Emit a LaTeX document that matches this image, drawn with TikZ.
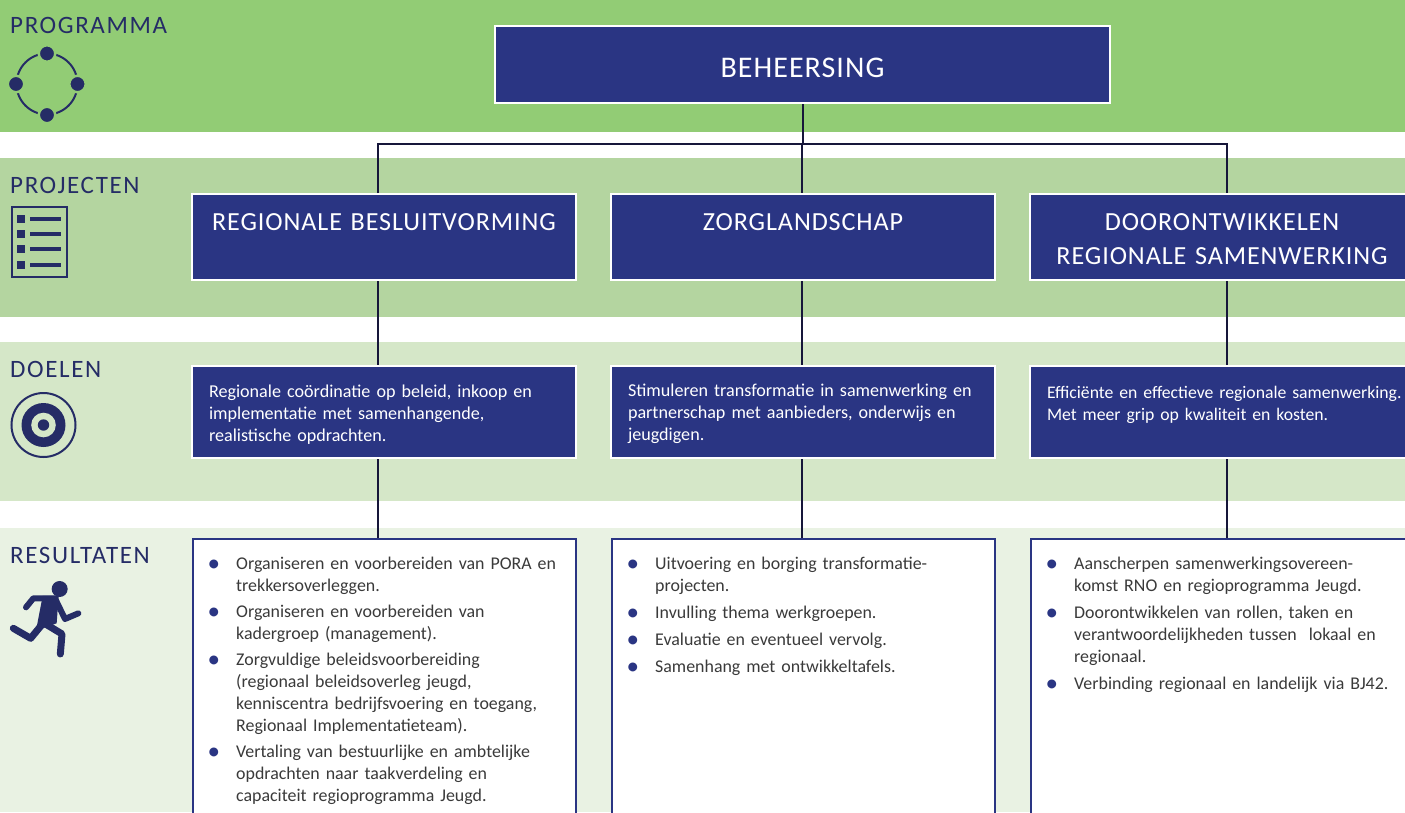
\documentclass[tikz,border=0pt]{standalone}
\usepackage{fontspec}
\setmainfont{Carlito}
\newfontfamily\spatiefont[LetterSpace=3.5]{Carlito}
\newfontfamily\labelfont[LetterSpace=6.5]{Carlito}
\definecolor{bandA}{HTML}{92CC75}
\definecolor{bandB}{HTML}{B4D5A0}
\definecolor{bandC}{HTML}{D5E7C8}
\definecolor{bandD}{HTML}{E9F2E3}
\definecolor{blok}{HTML}{2A3583}
\definecolor{icoon}{HTML}{252C66}
\definecolor{lijn}{HTML}{16163A}
\definecolor{tekst}{HTML}{3A3A3A}
\newenvironment{resultlijst}[1]{\begin{list}{\makebox[0pt][r]{\textcolor{blok}{\raisebox{-2pt}{\scalebox{1.4}{\textbullet}}}}}{\setlength{\leftmargin}{26pt}\setlength{\labelwidth}{0pt}\setlength{\labelsep}{16pt}\setlength{\itemsep}{#1}\setlength{\parsep}{0pt}\setlength{\topsep}{0pt}\setlength{\partopsep}{0pt}}}{\end{list}}
\tikzset{
	rijlabel/.style={anchor=base west,inner sep=0pt,text=icoon,font=\labelfont\fontsize{25}{28}\selectfont},
	kopblok/.style={draw=white,line width=2pt,fill=blok,text=white,inner xsep=0pt,inner ysep=0pt,align=center,font=\spatiefont\fontsize{26.1}{33.5}\selectfont},
	projblok/.style={kopblok,text width=384pt,minimum height=86pt,execute at begin node=\rule{0pt}{21pt}},
	doelblok/.style={draw=white,line width=2pt,fill=blok,text=white,minimum height=92pt,text width=350pt,inner xsep=17pt,inner ysep=0pt,align=left,font=\fontsize{18.1}{22}\selectfont,execute at begin node=\rule{0pt}{17pt}},
	resultblok/.style={draw=blok,line width=2pt,fill=white,minimum width=383pt,minimum height=291pt,anchor=north},
	resulttekst/.style={anchor=north west,inner sep=0pt,text width=350pt,text=tekst,font=\fontsize{17.9}{22}\selectfont},
	verbinding/.style={draw=lijn,line width=2pt},
	icoonlijn/.style={draw=icoon,line width=2pt},
	stip/.style={fill=icoon,draw=bandA,line width=2.5pt},
}
\begin{document}
\begin{tikzpicture}[x=1pt,y=-1pt]
	\clip (0,0) rectangle (1405,812);
	\fill[white] (0,0) rectangle (1405,812);
	\fill[bandA] (0,0) rectangle (1405,132);
	\fill[bandB] (0,158) rectangle (1405,317);
	\fill[bandC] (0,342) rectangle (1405,501);
	\fill[bandD] (0,528) rectangle (1405,812);

	\node[rijlabel] (programma) at (10,33.5){PROGRAMMA};
	\node[rijlabel] (projecten) at (10,193){PROJECTEN};
	\node[rijlabel] (doelen) at (10,377){DOELEN};
	\node[rijlabel] (resultaten) at (10,563){RESULTATEN};

	\node[kopblok,text width=615pt,minimum height=77pt,font=\spatiefont\fontsize{30}{36}\selectfont,execute at begin node=\rule{0pt}{26pt}] (beheersing) at (802.5,64.5){BEHEERSING};

	\node[projblok] (projA) at (384,237){REGIONALE BESLUITVORMING\\~};
	\node[projblok] (projB) at (803,237){ZORGLANDSCHAP\\~};
	\node[projblok] (projC) at (1222,237){DOORONTWIKKELEN\\REGIONALE SAMENWERKING};

	\node[doelblok] (doelA) at (384,412){Regionale coördinatie op beleid, inkoop en\\implementatie met samenhangende,\\realistische opdrachten.};
	\node[doelblok] (doelB) at (803,412){Stimuleren transformatie in samenwerking en\\partnerschap met aanbieders, onderwijs en\\jeugdigen.};
	\node[doelblok,font=\fontsize{17.7}{22}\selectfont] (doelC) at (1222,412){\mbox{Efficiënte en effectieve regionale samenwerking.}\\Met meer grip op kwaliteit en kosten.\\~};

	\node[resultblok] (resA) at (384,538){};
	\node[resultblok] (resB) at (803,538){};
	\node[resultblok] (resC) at (1222,538){};

	\node[resulttekst] (resAtekst) at (210,547){\begin{resultlijst}{4pt}
		\item Organiseren en voorbereiden van PORA en\\trekkersoverleggen.
		\item Organiseren en voorbereiden van\\kadergroep (management).
		\item Zorgvuldige beleidsvoorbereiding\\(regionaal beleidsoverleg jeugd,\\kenniscentra bedrijfsvoering en toegang,\\Regionaal Implementatieteam).
		\item Vertaling van bestuurlijke en ambtelijke\\opdrachten naar taakverdeling en\\capaciteit regioprogramma Jeugd.
	\end{resultlijst}};
	\node[resulttekst] (resBtekst) at (629,547){\begin{resultlijst}{5pt}
		\item Uitvoering en borging transformatie-\\projecten.
		\item Invulling thema werkgroepen.
		\item Evaluatie en eventueel vervolg.
		\item Samenhang met ontwikkeltafels.
	\end{resultlijst}};
	\node[resulttekst] (resCtekst) at (1048,547){\begin{resultlijst}{5pt}
		\item Aanscherpen samenwerkingsovereen-\\komst RNO en regioprogramma Jeugd.
		\item Doorontwikkelen van rollen, taken en\\verantwoordelijkheden tussen\ \ lokaal en\\regionaal.
		\item Verbinding regionaal en landelijk via BJ42.
	\end{resultlijst}};

	\coordinate (hoekA) at (378,144);
	\coordinate (hoekB) at (802,144);
	\coordinate (hoekC) at (1227,144);
	\draw[verbinding] (beheersing.south) -- (beheersing.south |- hoekB);
	\draw[verbinding] (projA.north -| hoekA) -- (hoekA) -- (hoekC) -- (projC.north -| hoekC);
	\draw[verbinding] (hoekB) -- (projB.north -| hoekB);
	\draw[verbinding] (projA.south -| hoekA) -- (doelA.north -| hoekA);
	\draw[verbinding] (projB.south -| hoekB) -- (doelB.north -| hoekB);
	\draw[verbinding] (projC.south -| hoekC) -- (doelC.north -| hoekC);
	\draw[verbinding] (doelA.south -| hoekA) -- (resA.north -| hoekA);
	\draw[verbinding] (doelB.south -| hoekB) -- (resB.north -| hoekB);
	\draw[verbinding] (doelC.south -| hoekC) -- (resC.north -| hoekC);

	\draw[icoonlijn] (47,84) circle (30.5);
	\filldraw[stip] (47,53.5) circle (8.25);
	\filldraw[stip] (77.5,84) circle (8.25);
	\filldraw[stip] (47,115) circle (8.25);
	\filldraw[stip] (16,84) circle (8.25);

	\draw[icoonlijn] (11.5,206.5) rectangle (67,277);
	\fill[icoon] (17,215) rectangle (25,223);
	\fill[icoon] (17,230) rectangle (25,238);
	\fill[icoon] (17,245) rectangle (25,253);
	\fill[icoon] (17,261) rectangle (25,269);
	\fill[icoon] (30,217) rectangle (61,221);
	\fill[icoon] (30,232) rectangle (61,236);
	\fill[icoon] (30,247) rectangle (61,251);
	\fill[icoon] (30,263) rectangle (61,267);

	\draw[icoonlijn] (43.5,425) circle (32);
	\fill[icoon] (43.5,425) circle (22);
	\fill[bandC] (43.5,425) circle (12.3);
	\fill[icoon] (43.5,425) circle (5.7);

	\begin{scope}[shift={(0,340)},x=.3333pt,y=-.3333pt]
		\fill[icoon] (179,747) circle (24);
		\fill[icoon] (128,768) -- (176,768) -- (170,850) -- (108,872) -- cycle;
		\draw[icoon,line width=6pt,line cap=round,line join=round] (78,802) -- (100,775) -- (165,775) -- (195,837) -- (235,820);
		\draw[icoon,line width=7pt,line cap=round,line join=round] (125,855) -- (92,895) -- (40,865);
		\draw[icoon,line width=7pt,line cap=round,line join=round] (130,848) -- (186,882) -- (181,942);
	\end{scope}
\end{tikzpicture}
\end{document}
